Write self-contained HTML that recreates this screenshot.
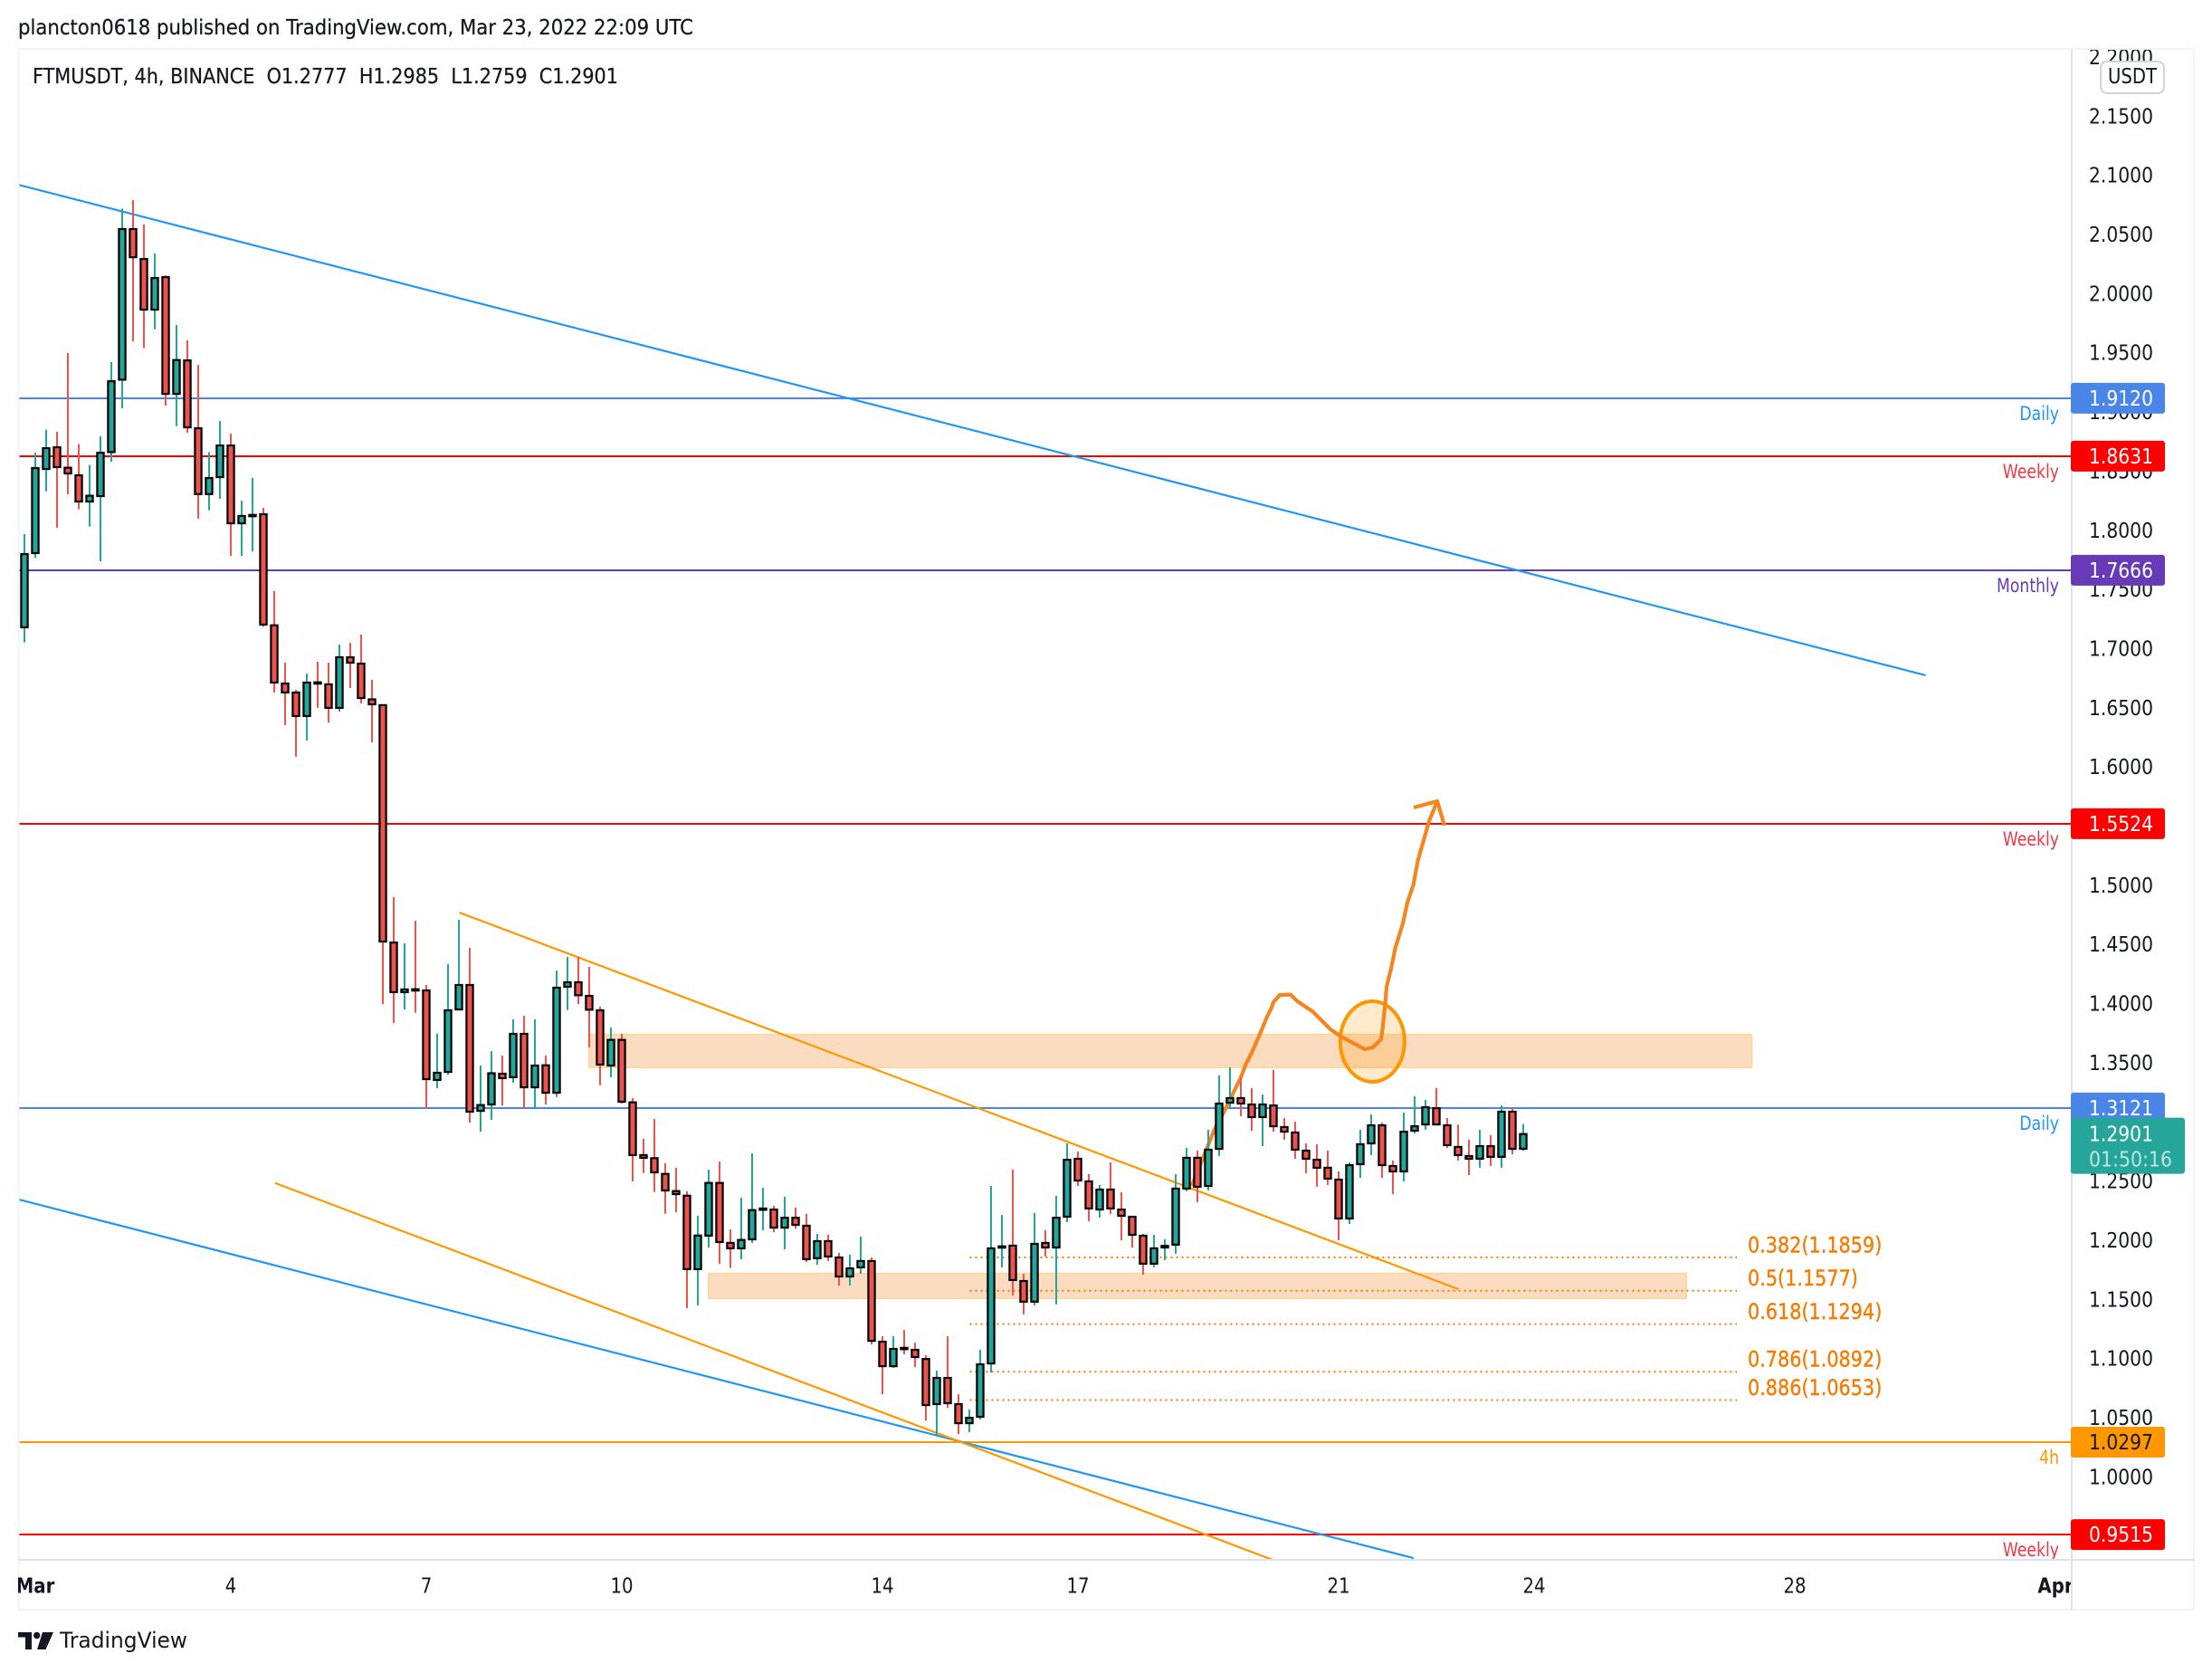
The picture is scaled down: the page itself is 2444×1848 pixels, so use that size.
<!DOCTYPE html>
<html lang="en">
<head>
<meta charset="utf-8">
<title>FTMUSDT 4h chart</title>
<style>
html,body{margin:0;padding:0;background:#fff;}
svg{display:block;}
text{font-family:"DejaVu Sans","Liberation Sans",sans-serif;}
</style>
</head>
<body>
<svg id="chart" xmlns="http://www.w3.org/2000/svg" width="2444" height="1848" viewBox="0 0 2444 1848">
  <defs>
    <clipPath id="pane-clip"><rect x="20" y="54" width="2268" height="1668"/></clipPath>
    <clipPath id="axis-clip"><rect x="2290" y="55" width="134" height="1667"/></clipPath>
    <clipPath id="time-clip"><rect x="20" y="1724" width="2268" height="54"/></clipPath>
  </defs>
  <rect x="0" y="0" width="2444" height="1848" fill="#ffffff"/>
  <text id="pub-title" x="20" y="38" font-size="23.5" fill="#131722" stroke="#131722" stroke-width="0.25" textLength="746" lengthAdjust="spacingAndGlyphs">plancton0618 published on TradingView.com, Mar 23, 2022 22:09 UTC</text>

  <g id="pane" clip-path="url(#pane-clip)"></g>

  <rect x="20.5" y="54" width="2403.5" height="1724" fill="none" stroke="#f0f3fa" stroke-width="2"/>
  <line x1="2289" y1="55" x2="2289" y2="1778" stroke="#e0e3eb" stroke-width="2"/>
  <line x1="20" y1="1723" x2="2424" y2="1723" stroke="#e0e3eb" stroke-width="2"/>

  <text x="36" y="92" font-size="23.5" fill="#131722" stroke="#131722" stroke-width="0.25" textLength="647" lengthAdjust="spacingAndGlyphs" xml:space="preserve">FTMUSDT, 4h, BINANCE  O1.2777  H1.2985  L1.2759  C1.2901</text>

  <g id="price-axis"></g>
  <g id="time-axis" clip-path="url(#time-clip)"></g>
  <g id="badges"></g>

  <g>
    <rect x="2321" y="68" width="70" height="35" rx="7" fill="#ffffff" stroke="#d1d4dc" stroke-width="2"/>
    <text x="2356" y="92" font-size="23" fill="#131722" text-anchor="middle" textLength="54" lengthAdjust="spacingAndGlyphs">USDT</text>
  </g>

  <g>
    <path fill="#131722" d="M20 1803H35V1822H28V1808.5H20ZM47 1803H59L50.5 1822H41Z"/>
    <circle cx="40.7" cy="1806.5" r="3.7" fill="#131722"/>
    <text x="66" y="1820" font-size="24" fill="#131722" textLength="141" lengthAdjust="spacingAndGlyphs">TradingView</text>
  </g>
</svg>
<script>
// ---- candle data (bar index 0..138, one bar = 4h) ----
const opens = [1.7184,1.7811,1.8522,1.8706,1.8533,1.8469,1.8247,1.8293,1.8665,1.9277,
2.0550,2.0297,1.9869,2.0144,1.9157,1.9440,1.8867,1.8310,1.8453,1.8721,
1.8063,1.8130,1.8140,1.7201,1.6709,1.6633,1.6434,1.6719,1.6702,1.6503,
1.6931,1.6877,1.6575,1.6526,1.4520,1.4100,1.4125,1.4115,1.3358,1.3426,
1.3954,1.4161,1.3097,1.3151,1.3411,1.3381,1.3748,1.3296,1.3482,1.3250,
1.4146,1.4184,1.4069,1.3947,1.3480,1.3697,1.3169,1.2723,1.2697,1.2564,
1.2419,1.2380,1.1759,1.2042,1.2488,1.1981,1.1935,1.2011,1.2268,1.2263,
1.2110,1.2194,1.2126,1.1851,1.1996,1.1858,1.1697,1.1774,1.1828,1.1146,
1.0939,1.1094,1.1077,1.1000,1.0618,1.0840,1.0618,1.0457,1.0511,1.0962,
1.1948,1.1958,1.1659,1.1484,1.1981,1.1942,1.2202,1.2692,1.2501,1.2263,
1.2432,1.2263,1.2202,1.2042,1.1805,1.1942,1.1966,1.2440,1.2700,1.2462,
1.2776,1.3166,1.3205,1.3151,1.3044,1.3143,1.2960,1.2914,1.2761,1.2684,
1.2616,1.2516,1.2187,1.2646,1.2822,1.2975,1.2631,1.2585,1.2929,1.2982,
1.3120,1.2975,1.2792,1.2715,1.2692,1.2799,1.2708,1.3090,1.2777];
const highs = [1.7972,1.8660,1.8855,1.8836,1.9502,1.8732,1.8556,1.8798,1.9425,2.0723,
2.0795,2.0589,2.0343,2.0159,1.9739,1.9609,1.9402,1.8665,1.8928,1.8821,
1.8254,1.8446,1.8193,1.7490,1.6885,1.6655,1.6793,1.6893,1.6885,1.7038,
1.7053,1.7122,1.6740,1.6533,1.4903,1.4513,1.4704,1.4161,1.3751,1.4337,
1.4712,1.4475,1.3480,1.3602,1.3564,1.3870,1.3901,1.3870,1.3566,1.4283,
1.4398,1.4398,1.4314,1.3977,1.3801,1.3748,1.3205,1.2860,1.3029,1.2654,
1.2616,1.2417,1.2210,1.2600,1.2669,1.2095,1.2363,1.2738,1.2447,1.2294,
1.2371,1.2279,1.2226,1.2057,1.2049,1.1896,1.1881,1.2034,1.1858,1.1192,
1.1192,1.1245,1.1138,1.1031,1.0901,1.1192,1.0701,1.0572,1.1077,1.2462,
1.2217,1.2600,1.1720,1.2233,1.2088,1.2379,1.2822,1.2753,1.2562,1.2470,
1.2661,1.2409,1.2202,1.2057,1.2049,1.2011,1.2562,1.2784,1.2761,1.2937,
1.3396,1.3465,1.3381,1.3289,1.3235,1.3442,1.3036,1.3006,1.2822,1.2815,
1.2761,1.2585,1.2661,1.2937,1.3067,1.2998,1.2677,1.3082,1.3220,1.3189,
1.3289,1.3036,1.2982,1.2853,1.2937,1.2891,1.3143,1.3128,1.2985];
const lows = [1.7057,1.7769,1.8333,1.8025,1.8308,1.8181,1.8035,1.7742,1.8583,1.9035,
1.9601,1.9543,1.9703,1.9058,1.8884,1.8828,1.8102,1.8173,1.8270,1.7788,
1.7788,1.7826,1.7187,1.6633,1.6357,1.6090,1.6227,1.6503,1.6380,1.6472,
1.6671,1.6541,1.6212,1.4000,1.3839,1.3954,1.3927,1.3113,1.3289,1.3403,
1.3954,1.2998,1.2921,1.3021,1.3140,1.3335,1.3113,1.3124,1.3151,1.3214,
1.3949,1.4000,1.3635,1.3314,1.3381,1.3159,1.2501,1.2572,1.2411,1.2227,
1.2240,1.1430,1.1453,1.1942,1.1805,1.1769,1.1843,1.1981,1.2088,1.2072,
1.1927,1.2102,1.1820,1.1797,1.1828,1.1621,1.1621,1.1720,1.1123,1.0701,
1.0924,1.1039,1.0931,1.0480,1.0350,1.0587,1.0365,1.0381,1.0488,1.0885,
1.1774,1.1537,1.1377,1.1453,1.1866,1.1461,1.2156,1.2462,1.2164,1.2194,
1.2226,1.2003,1.1942,1.1713,1.1774,1.1835,1.1889,1.2417,1.2325,1.2424,
1.2715,1.3120,1.3052,1.2929,1.2799,1.2921,1.2853,1.2692,1.2570,1.2455,
1.2470,1.2003,1.2141,1.2531,1.2723,1.2531,1.2393,1.2501,1.2906,1.2937,
1.2982,1.2784,1.2677,1.2554,1.2616,1.2631,1.2616,1.2730,1.2759];
const closes = [1.7803,1.8530,1.8698,1.8538,1.8484,1.8247,1.8296,1.8660,1.9264,2.0550,
2.0312,1.9869,2.0136,1.9157,1.9443,1.8874,1.8310,1.8446,1.8721,1.8063,
1.8125,1.8134,1.7207,1.6717,1.6633,1.6434,1.6717,1.6715,1.6503,1.6931,
1.6885,1.6586,1.6533,1.4528,1.4100,1.4123,1.4121,1.3365,1.3419,1.3947,
1.4161,1.3090,1.3146,1.3415,1.3373,1.3748,1.3296,1.3480,1.3250,1.4138,
1.4184,1.4074,1.3952,1.3488,1.3697,1.3174,1.2723,1.2700,1.2577,1.2424,
1.2393,1.1759,1.2043,1.2488,1.1988,1.1935,1.2006,1.2258,1.2272,1.2110,
1.2194,1.2133,1.1843,1.1996,1.1866,1.1697,1.1766,1.1828,1.1153,1.0939,
1.1085,1.1090,1.1016,1.0610,1.0840,1.0626,1.0457,1.0503,1.0955,1.1935,
1.1952,1.1667,1.1484,1.1973,1.1942,1.2194,1.2684,1.2508,1.2272,1.2432,
1.2272,1.2210,1.2049,1.1805,1.1935,1.1956,1.2440,1.2700,1.2455,1.2769,
1.3159,1.3205,1.3159,1.3044,1.3151,1.2967,1.2921,1.2769,1.2692,1.2616,
1.2524,1.2187,1.2638,1.2815,1.2975,1.2638,1.2585,1.2921,1.2967,1.3128,
1.2982,1.2807,1.2723,1.2692,1.2799,1.2708,1.3090,1.2776,1.2901];

// ---- axis data ----
const priceTicks = ["2.2000","2.1500","2.1000","2.0500","2.0000","1.9500","1.9000","1.8500","1.8000","1.7500","1.7000","1.6500","1.6000","1.5500","1.5000","1.4500","1.4000","1.3500","1.3000","1.2500","1.2000","1.1500","1.1000","1.0500","1.0000"];
const dateTicks = ["Mar","4","7","10","14","17","21","24","28","Apr"];
const dateDays = [1,4,7,10,14,17,21,24,28,32];

// ---- horizontal levels ----
const levelPrices = [1.9120,1.8631,1.7666,1.5524,1.3121,1.0297,0.9515];
const levelTags = ["Daily","Weekly","Monthly","Weekly","Daily","4h","Weekly"];

// ---- fibonacci levels ----
const fibRatios = ["0.382","0.5","0.618","0.786","0.886"];
const fibPrices = [1.1859,1.1577,1.1294,1.0892,1.0653];

// ---- trend lines as [bar, price] anchors ----
const blueUpperLine = [-0.58,2.0925,175.05,1.6778];
const blueLowerLine = [-0.58,1.2349,127.9,0.9317];
const orangeUpperLine = [40.05,1.4773,132.03,1.1590];
const orangeLowerLine = [23.05,1.2488,115.17,0.9294];

// ---- zones as bar range + price range ----
const upperZone = [52,159.04,1.3742,1.3464];
const lowerZone = [63,153,1.1722,1.1513];
const fibBarRange = [87.04,157.67];

// ---- axis functions ----
function barX(bar){ return 27 + 12*bar; }
function dayX(day){ return 39 + 72*(day-1); }
function priceY(p){ return 1631.8 - (p-1)*1306.9; }

const NS = "http://www.w3.org/2000/svg";
const pane = document.getElementById('pane');
const priceAxis = document.getElementById('price-axis');
const timeAxis = document.getElementById('time-axis');
const badges = document.getElementById('badges');
const TEAL = '#26a69a', RED = '#ef5350';

function svgEl(tag, parent){
  const el = document.createElementNS(NS, tag);
  parent.appendChild(el);
  return el;
}
function setAll(el, props){
  for (const k in props) el.setAttribute(k, props[k]);
}
function squeeze(t, f){
  t.setAttribute('textLength', (t.getComputedTextLength()*f).toFixed(1));
  t.setAttribute('lengthAdjust', 'spacingAndGlyphs');
}
function lineColor(tag){
  return tag==='Daily' ? '#4a86e8' : tag==='Weekly' ? '#ff0000' : tag==='Monthly' ? '#673ab7' : '#ff9800';
}
function tagColor(tag){
  return tag==='Daily' ? '#2196f3' : tag==='Weekly' ? '#f23645' : tag==='Monthly' ? '#673ab7' : '#ff9800';
}

// zones
function drawZone(z, name){
  const r = svgEl('rect', pane);
  
  
  setAll(r, {x:barX(z[0]), y:priceY(z[2]), width:barX(z[1])-barX(z[0]), height:priceY(z[3])-priceY(z[2]), fill:'#fbdcc0', stroke:'#fdd9a0', 'stroke-width':2});
}
drawZone(upperZone, 'upper-supply-zone');
drawZone(lowerZone, 'lower-demand-zone');

// horizontal levels
levelPrices.forEach(function(p, i){
  const ly = Math.round(priceY(p));
  const l = svgEl('line', pane);
  
  
  setAll(l, {x1:20, x2:2288, y1:ly, y2:ly, stroke:lineColor(levelTags[i]), 'stroke-width':2});
  const t = svgEl('text', pane);
  
  
  setAll(t, {x:2275, y:priceY(p)+24, 'font-size':21, fill:tagColor(levelTags[i]), 'text-anchor':'end'});
  t.textContent = levelTags[i];
  squeeze(t, 0.82);
});

// trend lines
function drawTrend(a, color, name){
  const l = svgEl('line', pane);
  
  
  setAll(l, {x1:barX(a[0]), y1:priceY(a[1]), x2:barX(a[2]), y2:priceY(a[3]), stroke:color, 'stroke-width':2.2});
}
drawTrend(blueUpperLine, '#2196f3', 'upper-channel-line');
drawTrend(blueLowerLine, '#2196f3', 'lower-channel-line');
drawTrend(orangeUpperLine, '#ff9800', 'wedge-upper-line');
drawTrend(orangeLowerLine, '#ff9800', 'wedge-lower-line');

// fib levels
fibPrices.forEach(function(p, i){
  const l = svgEl('line', pane);
  
  
  setAll(l, {x1:barX(fibBarRange[0]), x2:barX(fibBarRange[1]), y1:priceY(p), y2:priceY(p), stroke:'#f57c00', 'stroke-width':2, 'stroke-dasharray':'2 4'});
  const t = svgEl('text', pane);
  
  
  setAll(t, {x:1931, y:priceY(p)-5.5, 'font-size':24, fill:'#f57c00', stroke:'#f57c00', 'stroke-width':0.4});
  t.textContent = fibRatios[i] + '(' + p.toFixed(4) + ')';
  squeeze(t, 0.865);
});

// highlight ellipse
const ell = svgEl('ellipse', pane);


setAll(ell, {cx:1516.3, cy:1150.5, rx:35.5, ry:44.5, fill:'#ff9800', 'fill-opacity':0.2, stroke:'#ff9800', 'stroke-width':4});

// hand-drawn projection path
const brush = svgEl('path', pane);


setAll(brush, {fill:'none', stroke:'#f5851f', 'stroke-width':4.2, 'stroke-linejoin':'round', 'stroke-linecap':'butt',
  d:'M1316.7 1310L1330 1277L1341.7 1248L1353 1227L1371 1190L1376.7 1175L1383 1163L1393 1140L1400 1123L1405 1113L1407 1107L1414 1099L1426 1098.7L1433 1105.7L1450 1117L1470 1137L1481.7 1145L1508 1159L1516.7 1157L1526 1148L1528 1133L1530.7 1107L1532 1090L1537 1070L1541.7 1047L1550 1020L1555 997L1561.7 977L1566.7 950L1573 928L1579 907L1588 885M1562 892L1588 885L1596 912'});

// candles
opens.forEach(function(o, i){
  const c = closes[i], up = c >= o, color = up ? TEAL : RED, x = barX(i);
  const g = svgEl('g', pane);
  
  
  const wick = svgEl('rect', g);
  
  
  setAll(wick, {x:x-1, y:priceY(highs[i]), width:2, height:priceY(lows[i])-priceY(highs[i]), fill:color});
  const top = priceY(Math.max(o,c)), bot = priceY(Math.min(o,c));
  const body = svgEl('rect', g);
  
  
  setAll(body, {x:x-3.6, y:top, width:7.2, height:Math.max(bot-top,1.5), fill:color, stroke:'#000000', 'stroke-width':2.2});
});

// price axis ticks
const axisClip = svgEl('g', priceAxis);
axisClip.setAttribute('clip-path', 'url(#axis-clip)');


priceTicks.forEach(function(label){
  const t = svgEl('text', axisClip);
  
  
  setAll(t, {x:2308, y:priceY(parseFloat(label))+7.5, 'font-size':23.5, fill:'#131722', textLength:71, lengthAdjust:'spacingAndGlyphs'});
  t.textContent = label;
});

// time axis ticks
dateTicks.forEach(function(label, i){
  const t = svgEl('text', timeAxis);
  
  
  const major = isNaN(parseInt(label));
  setAll(t, {x:dayX(dateDays[i]), y:1759.5, 'font-size':23.5, fill:'#131722', 'text-anchor':'middle', 'font-weight':major?'bold':'normal'});
  t.textContent = label;
  squeeze(t, 0.84);
});

// price badges
levelPrices.forEach(function(p, i){
  const y = priceY(p), tag = levelTags[i];
  const r = svgEl('rect', badges);
  
  
  setAll(r, {x:2288, y:y-17, width:104, height:34, rx:3, fill:lineColor(tag)});
  const t = svgEl('text', badges);
  
  
  setAll(t, {x:2308, y:y+8, 'font-size':23.5, fill:tag==='4h'?'#131722':'#ffffff', textLength:71, lengthAdjust:'spacingAndGlyphs'});
  t.textContent = p.toFixed(4);
});

// last price badge
const lastPrice = closes[closes.length-1];
const lastY = priceY(lastPrice);
const lastBox = svgEl('rect', badges);


setAll(lastBox, {x:2288, y:lastY-18, width:126, height:62, rx:3, fill:TEAL});
const lastText = svgEl('text', badges);


setAll(lastText, {x:2308, y:lastY+8, 'font-size':23.5, fill:'#ffffff', textLength:71, lengthAdjust:'spacingAndGlyphs'});
lastText.textContent = lastPrice.toFixed(4);
const countdown = svgEl('text', badges);


setAll(countdown, {x:2308, y:lastY+36, 'font-size':23.5, fill:'#ffffff', 'fill-opacity':0.7, textLength:92, lengthAdjust:'spacingAndGlyphs'});
countdown.textContent = '01:50:16';
</script>
</body>
</html>
